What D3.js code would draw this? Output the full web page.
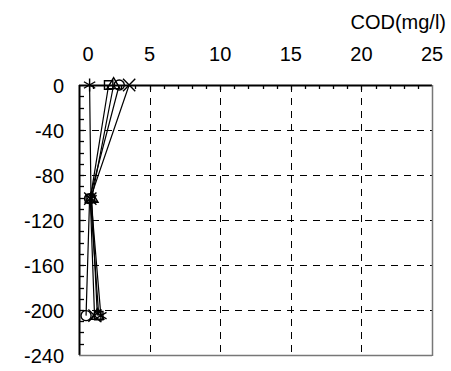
<!DOCTYPE html>
<html>
<head>
<meta charset="utf-8">
<script src="https://cdn.jsdelivr.net/npm/d3@7"></script>
<style>
  body { margin: 0; background: #fff; }
  text { font-family: "Liberation Sans", Arial, sans-serif; fill: #000; }
</style>
</head>
<body>
<svg id="chart" width="451" height="371"></svg>
<script>
// Sampling depths (cm) and COD values (mg/l) for each profile
const depths = [0, -101, -205];
const codStar = [0.75, 0.85, 1.55];
const codSquare = [2.1, 0.8, 1.4];
const codTriangle = [2.45, 0.9, 1.3];
const codCircle = [2.85, 0.75, 0.5];
const codCross = [3.55, 0.8, 1.1];
const xTicks = [0, 5, 10, 15, 20, 25];
const yTicks = [0, -40, -80, -120, -160, -200, -240];

const series = [
  { name: "star", values: codStar },
  { name: "square", values: codSquare },
  { name: "triangle", values: codTriangle },
  { name: "circle", values: codCircle },
  { name: "cross", values: codCross }
];

const svg = d3.select("#chart");
const plotL = 79, plotR = 432, plotT = 85, plotB = 355;
const fontSize = 20;

const x = d3.scaleLinear().domain([0, 25]).range([plotL, plotR]);
const y = d3.scaleLinear().domain([0, -240]).range([plotT, plotB]);

// dashed grid
const grid = svg.append("g").attr("stroke", "#000").attr("stroke-dasharray", "7,6").attr("stroke-width", 1);
xTicks.slice(1, -1).forEach(v => {
  grid.append("line").attr("x1", Math.round(x(v)) + 0.5).attr("x2", Math.round(x(v)) + 0.5)
    .attr("y1", plotT).attr("y2", plotB);
});
yTicks.slice(1, -1).forEach(v => {
  grid.append("line").attr("y1", Math.round(y(v)) + 0.5).attr("y2", Math.round(y(v)) + 0.5)
    .attr("x1", plotL).attr("x2", plotR);
});

// frame: top and left solid black, right and bottom grey
svg.append("line").attr("x1", plotL).attr("x2", plotR).attr("y1", plotT + 0.5).attr("y2", plotT + 0.5)
  .attr("stroke", "#000").attr("stroke-width", 2);
svg.append("line").attr("x1", plotL + 0.5).attr("x2", plotL + 0.5).attr("y1", plotT).attr("y2", plotB)
  .attr("stroke", "#000").attr("stroke-width", 2);
svg.append("line").attr("x1", plotR + 0.5).attr("x2", plotR + 0.5).attr("y1", plotT).attr("y2", plotB + 1)
  .attr("stroke", "#777").attr("stroke-width", 1.5);
svg.append("line").attr("x1", plotL).attr("x2", plotR).attr("y1", plotB + 0.5).attr("y2", plotB + 0.5)
  .attr("stroke", "#777").attr("stroke-width", 1.5);

// top axis: minor ticks every 1 unit, major every 5, pointing inward
const tickG = svg.append("g").attr("stroke", "#000").attr("stroke-width", 1.3);
d3.range(1, 25).forEach(v => {
  const len = v % 5 === 0 ? 5 : 4;
  const px = Math.round(x(v)) + 0.5;
  tickG.append("line").attr("x1", px).attr("x2", px).attr("y1", plotT).attr("y2", plotT + len);
});
// left axis ticks every 10 units, pointing inward
d3.range(-10, -240, -10).forEach(v => {
  const py = Math.round(y(v)) + 0.5;
  tickG.append("line").attr("x1", plotL).attr("x2", plotL + 5).attr("y1", py).attr("y2", py);
});

// tick labels
svg.append("g").selectAll("text").data(xTicks).join("text")
  .attr("x", d => d === 0 ? x(d) + 9 : x(d)).attr("y", 61)
  .attr("text-anchor", "middle").attr("font-size", fontSize).text(d => d);
svg.append("g").selectAll("text").data(yTicks).join("text")
  .attr("x", 64).attr("y", d => y(d) + 8)
  .attr("text-anchor", "end").attr("font-size", fontSize).text(d => d);

svg.append("text").attr("x", 446).attr("y", 29).attr("text-anchor", "end")
  .attr("font-size", fontSize).text("COD(mg/l)");

// profile lines
const line = d3.line().x(d => x(d[0])).y(d => y(d[1]));
series.forEach(s => {
  svg.append("path").datum(s.values.map((v, i) => [v, depths[i]]))
    .attr("d", line).attr("fill", "none").attr("stroke", "#000").attr("stroke-width", 1.2);
});

// markers
const sym = {
  star: d3.symbolAsterisk,
  square: d3.symbolSquare,
  triangle: d3.symbolTriangle,
  circle: d3.symbolCircle,
  cross: d3.symbolTimes
};
const sizes = { star: 120, square: 70, triangle: 70, circle: 80, cross: 100 };
series.forEach(s => {
  svg.append("g").selectAll("path").data(s.values.map((v, i) => [v, depths[i]])).join("path")
    .attr("transform", d => `translate(${x(d[0])},${y(d[1])})`)
    .attr("d", d3.symbol().type(sym[s.name]).size(sizes[s.name]))
    .attr("fill", "none").attr("stroke", "#000").attr("stroke-width", 1.4);
});
</script>
</body>
</html>
